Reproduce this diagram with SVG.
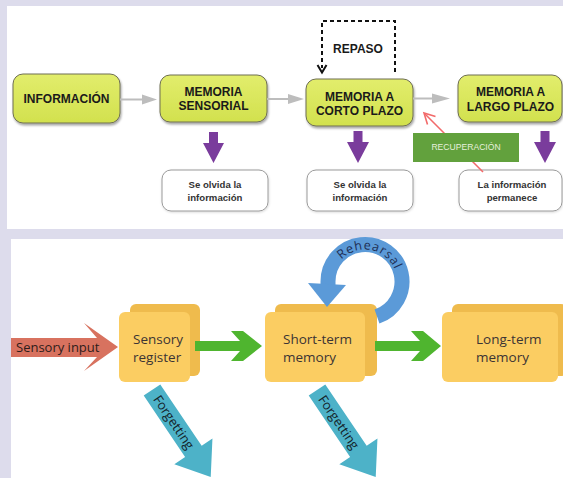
<svg xmlns="http://www.w3.org/2000/svg" width="563" height="478" viewBox="0 0 563 478">
<style>
.t{font-family:"Liberation Sans",Arial,sans-serif;font-weight:bold;font-size:12px;fill:#1a1a1a;text-anchor:middle}
.w{font-family:"Liberation Sans",Arial,sans-serif;font-weight:bold;font-size:9.6px;fill:#333;text-anchor:middle}
.yg{fill:url(#yg);stroke:#6e6e52;stroke-width:1;filter:url(#sh)}
.wb{fill:#fff;stroke:#9a9a9a;stroke-width:1;filter:url(#sh2)}
.pu{fill:#7a3c9c}
.ga{stroke:#bdbdbd;stroke-width:2;fill:none}
.gh{fill:#bdbdbd}
.b{font-family:"Open Sans","Noto Sans",sans-serif;font-size:13.5px;fill:#3b3434}
.front{fill:#fbcd62}
.back{fill:#efbb4d}
.gr{fill:#4fb52f}
.tl{fill:#4db2c8}
.fg{font-family:"Open Sans","Noto Sans",sans-serif;font-size:13px;fill:#14232a}
</style>
<defs>
<linearGradient id="yg" x1="0" y1="0" x2="0" y2="1">
<stop offset="0" stop-color="#e2ed6c"/>
<stop offset="1" stop-color="#d2e14e"/>
</linearGradient>
<filter id="sh" x="-20%" y="-20%" width="140%" height="150%">
<feDropShadow dx="1" dy="2" stdDeviation="1.3" flood-color="#000" flood-opacity="0.35"/>
</filter>
<filter id="sh2" x="-20%" y="-20%" width="140%" height="150%">
<feDropShadow dx="0.5" dy="1" stdDeviation="1" flood-color="#000" flood-opacity="0.15"/>
</filter>
<path id="arcT" d="M 333 281.5 A 32 32 0 0 1 397 281.5"/>
</defs>
<rect x="0" y="0" width="563" height="478" fill="#dddcec"/>
<rect x="7" y="6" width="556" height="223" fill="#fff"/>
<rect x="11" y="239" width="552" height="239" fill="#fff"/>

<g id="informacion">
<rect class="yg" x="13" y="74" width="107" height="49" rx="10"/>
<text class="t" x="66.5" y="103">INFORMACIÓN</text>
</g>
<g id="memoria-sensorial">
<rect class="yg" x="160" y="75" width="107" height="47" rx="10"/>
<text class="t" x="213.5" y="96">MEMORIA</text>
<text class="t" x="213.5" y="109.5">SENSORIAL</text>
</g>
<g id="memoria-corto">
<rect class="yg" x="306" y="79" width="107" height="47" rx="10"/>
<text class="t" x="359.5" y="101">MEMORIA A</text>
<text class="t" x="359.5" y="114.5">CORTO PLAZO</text>
</g>
<g id="memoria-largo">
<rect class="yg" x="458" y="75" width="104" height="47" rx="10"/>
<text class="t" x="510.5" y="95.5">MEMORIA A</text>
<text class="t" x="510.5" y="110.5">LARGO PLAZO</text>
</g>
<g id="olvida-1">
<rect class="wb" x="162" y="170" width="106" height="41" rx="9"/>
<text class="w" x="215" y="188">Se olvida la</text>
<text class="w" x="215" y="200.5">información</text>
</g>
<g id="olvida-2">
<rect class="wb" x="307" y="170" width="106" height="41" rx="9"/>
<text class="w" x="360" y="188">Se olvida la</text>
<text class="w" x="360" y="200.5">información</text>
</g>
<g id="permanece">
<rect class="wb" x="459" y="170" width="103" height="41" rx="9"/>
<text class="w" x="512" y="188">La información</text>
<text class="w" x="512" y="200.5">permanece</text>
</g>

<g id="sensory-register">
<rect class="back" x="130" y="304" width="70" height="72" rx="6"/>
<rect class="front" x="119" y="312" width="71" height="70" rx="6"/>
<text class="b" x="133" y="344">Sensory</text>
<text class="b" x="133" y="362">register</text>
</g>
<g id="short-term">
<rect class="back" x="275" y="304" width="102" height="72" rx="6"/>
<rect class="front" x="265" y="312" width="100" height="70" rx="6"/>
<text class="b" x="283" y="344">Short-term</text>
<text class="b" x="283" y="362">memory</text>
</g>
<g id="long-term">
<rect class="back" x="452" y="304" width="115" height="72" rx="6"/>
<rect class="front" x="442" y="312" width="116" height="70" rx="6"/>
<text class="b" x="476" y="344">Long-term</text>
<text class="b" x="476" y="362">memory</text>
</g>

<g id="connectors">
<line class="ga" x1="120" y1="99.5" x2="144" y2="99.5"/>
<polygon class="gh" points="142,94.5 157,99.5 142,104.5"/>
<line class="ga" x1="267" y1="99" x2="290" y2="99"/>
<polygon class="gh" points="288,94 304,99 288,104"/>
<line class="ga" x1="413" y1="98.5" x2="434" y2="98.5"/>
<polygon class="gh" points="432,93.5 450,98.5 432,103.5"/>
<path d="M 395 72 L 395 21 L 322 21 L 322 68" fill="none" stroke="#111" stroke-width="2" stroke-dasharray="4 3"/>
<path d="M 317.5 65 L 322 72.5 L 326.5 65" fill="none" stroke="#111" stroke-width="2"/>
<text class="t" x="358" y="53.3">REPASO</text>
<polygon class="pu" points="209,132 218,132 218,143 224,143 213.5,163 203,143 209,143"/>
<polygon class="pu" points="353.5,131 362.5,131 362.5,142 369,142 358,163 347,142 353.5,142"/>
<polygon class="pu" points="540.5,131 549.5,131 549.5,142 556,142 545,163 534,142 540.5,142"/>
<line x1="483" y1="172" x2="425" y2="114" stroke="#f26a6a" stroke-width="1.6"/>
<path d="M 427.5 124.5 L 424 113 L 435.5 116.5" fill="none" stroke="#f26a6a" stroke-width="1.6"/>
<rect x="413" y="133" width="106" height="29" fill="#62a13d"/>
<text x="466" y="150" font-family="Liberation Sans,Arial,sans-serif" font-size="8.6" fill="#e6f0dc" text-anchor="middle">RECUPERACIÓN</text>

<polygon fill="#d8725f" points="11,338 97,338 84,323 118,347 84,371 97,357 11,357"/>
<text x="16" y="352" font-family="Open Sans,Noto Sans,sans-serif" font-size="13px" fill="#2e1c1a">Sensory input</text>
<polygon class="gr" points="195,341 240,341 231,331 243,331 262,346 243,361 231,361 240,351 195,351"/>
<polygon class="gr" points="375,341 420,341 411,331 423,331 441,346 423,361 411,361 420,351 375,351"/>
<path d="M 377 316.5 A 37 37 0 1 0 328 281.5 L 328 285" fill="none" stroke="#5b9ad8" stroke-width="15"/>
<polygon fill="#5b9ad8" points="308,283 346,285 327,307"/>
<text font-family="Open Sans,Noto Sans,sans-serif" font-size="12.5px" fill="#1e2f55" letter-spacing="0.8"><textPath href="#arcT" startOffset="56%" text-anchor="middle">Rehearsal</textPath></text>
<g transform="translate(152,390) rotate(56)">
<polygon class="tl" points="0,-10 74,-10 74,-23 105,0 74,23 74,10 0,10"/>
<text class="fg" x="8" y="4.5">Forgetting</text>
</g>
<g transform="translate(317,390) rotate(56)">
<polygon class="tl" points="0,-10 74,-10 74,-23 105,0 74,23 74,10 0,10"/>
<text class="fg" x="8" y="4.5">Forgetting</text>
</g>
</g>
</svg>
